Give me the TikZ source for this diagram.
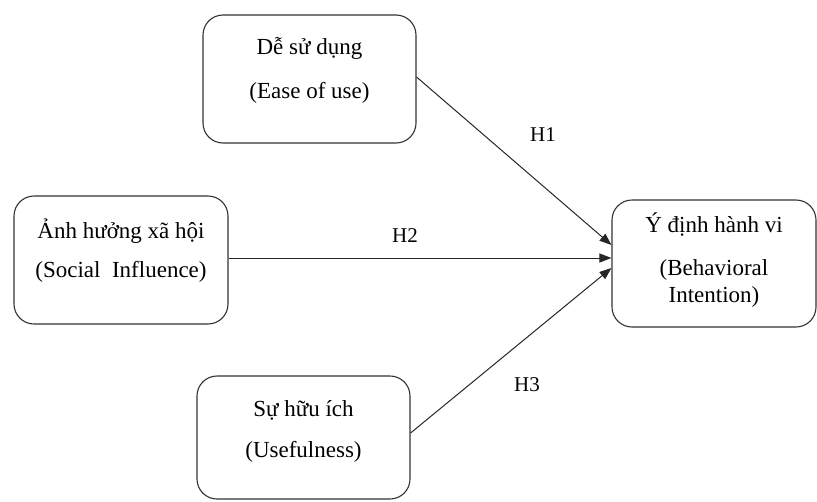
\documentclass[tikz,border=0pt]{standalone}
\usepackage{fontspec}
\setmainfont{Liberation Serif}
\usetikzlibrary{arrows.meta,calc}
\begin{document}
\begin{tikzpicture}[x=1pt,y=-1pt,
  box/.style={draw=black!80,line width=1.1pt,rounded corners=20pt,inner sep=0pt},
  txt/.style={font=\fontsize{23}{27}\selectfont,align=center,inner sep=0pt},
  lbl/.style={font=\fontsize{21}{25}\selectfont,inner sep=0pt},
  conn/.style={draw=black!85,line width=1pt,-{Triangle[length=12pt,width=9pt]}}]
\useasboundingbox (0,0) rectangle (817,501);
\node[box,minimum width=213pt,minimum height=128pt] (b1) at (309.5,79) {};
\node[box,minimum width=214pt,minimum height=128pt] (b2) at (121,260) {};
\node[box,minimum width=213pt,minimum height=123pt] (b3) at (303.5,437.5) {};
\node[box,minimum width=204pt,minimum height=127pt] (b4) at (714,263.5) {};
% texts
\node[txt] (t1a) at (309.5,48) {Dễ sử dụng};
\node[txt] (t1b) at (309.5,93) {(Ease of use)};
\node[txt] (t2a) at (121,231) {Ảnh hưởng xã hội};
\node[txt] (t2b) at (121,272) {(Social\ \ Influence)};
\node[txt] (t3a) at (303.5,410) {Sự hữu ích};
\node[txt] (t3b) at (303.5,452) {(Usefulness)};
\node[txt] (t4a) at (714,225) {Ý định hành vi};
\node[txt] (t4b) at (714,283) {(Behavioral\\Intention)};
% connectors
\coordinate (e1) at ([yshift=18.5pt]b4.west);
\coordinate (e2) at ([yshift=5.5pt]b4.west);
\coordinate (e3) at ([yshift=-4.5pt]b4.west);
\draw[conn] ([yshift=2pt]b1.east) -- (e1);
\draw[conn] (b2.east |- e2) -- (e2);
\draw[conn] ([yshift=4.5pt]b3.east) -- (e3);
\node[lbl] (h1) at (543,135) {H1};
\node[lbl] (h2) at (405,236) {H2};
\node[lbl] (h3) at (527,385) {H3};
\end{tikzpicture}
\end{document}
